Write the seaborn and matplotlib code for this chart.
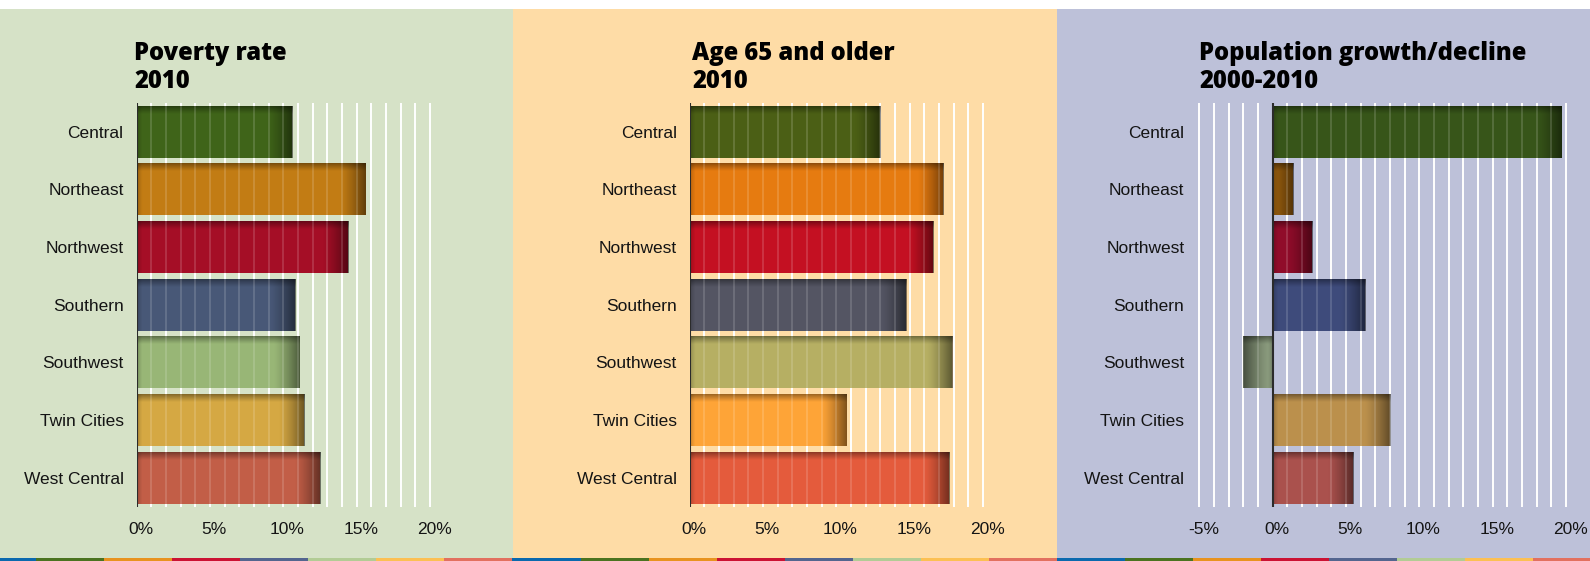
import numpy as np
import pandas as pd
import matplotlib
matplotlib.use("Agg")
import matplotlib.pyplot as plt
import matplotlib.transforms as mtransforms
from matplotlib.patches import Rectangle
import seaborn as sns

# ---------------- data ----------------
regions = ["Central", "Northeast", "Northwest", "Southern", "Southwest",
           "Twin Cities", "West Central"]
poverty_2010 = [10.6, 15.6, 14.4, 10.8, 11.1, 11.4, 12.5]
age65_2010 = [13.0, 17.3, 16.6, 14.75, 17.9, 10.7, 17.7]
growth_2000_2010 = [19.7, 1.4, 2.7, 6.3, -2.0, 8.0, 5.5]

titles = ["Poverty rate\n2010", "Age 65 and older\n2010",
          "Population growth/decline\n2000-2010"]
ticks_p1 = [0, 5, 10, 15, 20]
ticks_p2 = [0, 5, 10, 15, 20]
ticks_p3 = [-5, 0, 5, 10, 15, 20]
ticklabels_p1 = ["0%", "5%", "10%", "15%", "20%"]
ticklabels_p2 = ["0%", "5%", "10%", "15%", "20%"]
ticklabels_p3 = ["-5%", "0%", "5%", "10%", "15%", "20%"]

# ---------------- styles ----------------
pal1 = ["#3f6419", "#c27c14", "#a50e26", "#485877", "#98b676", "#d5a843", "#c25e47"]
pal2 = ["#4b5f15", "#e67b10", "#c41022", "#545563", "#b6af63", "#fea437", "#e45b3c"]
pal3 = ["#375519", "#a4650f", "#900c2a", "#3e4b7b", "#8b9c7e", "#bb904c", "#aa514d"]
bg_colors = ["#d6e2c7", "#fedca6", "#bdc1d9"]
strip_colors = ["#0b69ae", "#4b7320", "#e8931f", "#cb1233", "#53658f",
                "#b2cc95", "#fcc053", "#e2705f"]

W, H = 1590, 561
SC = 14.67  # pixels per percentage point
AX_TOP, AX_BOT = 102.7, 506.7

panels = [
    dict(vals=poverty_2010, pal=pal1, zero=136.7, xlim=(0, 20.3),
         ticks=ticks_p1, labels=ticklabels_p1, title=titles[0],
         bg=(0, 513.3), title_x=134, ypad=9.5),
    dict(vals=age65_2010, pal=pal2, zero=689.7, xlim=(0, 20.3),
         ticks=ticks_p2, labels=ticklabels_p2, title=titles[1],
         bg=(513.3, 1056.7), title_x=692, ypad=9.2),
    dict(vals=growth_2000_2010, pal=pal3, zero=1272.7, xlim=(-5.1, 20.3),
         ticks=ticks_p3, labels=ticklabels_p3, title=titles[2],
         bg=(1056.7, 1590), title_x=1199, ypad=9.8),
]

sns.set_theme(style="white")
plt.rcParams["font.family"] = ["Liberation Sans", "DejaVu Sans"]

fig = plt.figure(figsize=(W / 100, H / 100), dpi=100)
fig.patch.set_facecolor("white")

# panel backgrounds and bottom colour strip
for i, p in enumerate(panels):
    x0, x1 = p["bg"]
    fig.patches.append(Rectangle((x0 / W, 1 - 558.5 / H), (x1 - x0) / W, (558.5 - 9) / H,
                                 transform=fig.transFigure, facecolor=bg_colors[i],
                                 edgecolor="none", zorder=-10))
    start = x0 if i > 0 else -32.0
    k = 0
    s = start
    while s < x1:
        a, b = max(s, x0), min(s + 68, x1)
        if b > a:
            fig.patches.append(Rectangle((a / W, 0), (b - a) / W, 2.6 / H,
                                         transform=fig.transFigure,
                                         facecolor=strip_colors[k % 8],
                                         edgecolor="none", zorder=-10))
        s += 68
        k += 1

for p in panels:
    xmin, xmax = p["xlim"]
    left = p["zero"] + xmin * SC
    width = (xmax - xmin) * SC
    ax = fig.add_axes([left / W, 1 - AX_BOT / H, width / W, (AX_BOT - AX_TOP) / H])
    ax.set_facecolor("none")
    ax.set_zorder(2)

    df = pd.DataFrame({"region": regions, "value": p["vals"]})
    # gridlines under the bars
    for v in range(int(np.ceil(xmin)), 21):
        if v != 0:
            ax.axvline(v, color="white", lw=1.4, zorder=0.5)
    sns.barplot(data=df, x="value", y="region", hue="region", palette=p["pal"],
                legend=False, width=0.9, saturation=1, linewidth=0, orient="h",
                ax=ax, zorder=2)

    # shading gradients on each bar
    for patch in list(ax.patches):
        bx, by = patch.get_x(), patch.get_y()
        bw, bh = patch.get_width(), patch.get_height()
        xa, xb = min(bx, bx + bw), max(bx, bx + bw)
        ya, yb = min(by, by + bh), max(by, by + bh)
        nx, ny = 300, 60
        xs = np.linspace(xa, xb, nx)
        ys = np.linspace(0, 1, ny)  # 0 = visual top
        end = xb if bw >= 0 else xa
        dist_end = np.abs(end - xs) * SC  # pixels from bar end
        dist_start = np.abs(xs) * SC
        a_end = 0.5 * np.clip(1 - dist_end / 26.0, 0, 1) ** 1.3
        a_start = 0.18 * np.clip(1 - dist_start / 5.0, 0, 1)
        bar_px = (yb - ya) * (AX_BOT - AX_TOP) / 7.0
        a_top = 0.38 * np.clip(1 - ys * bar_px / 8.0, 0, 1) ** 1.2
        A = 1 - (1 - a_end[None, :]) * (1 - a_top[:, None]) * (1 - a_start[None, :])
        img = np.zeros((ny, nx, 4))
        img[..., 3] = A
        im = ax.imshow(img, extent=(xa, xb, yb, ya), origin="upper", aspect="auto",
                       interpolation="bilinear", zorder=2.5)
        im.set_clip_path(patch)

    # faint lighter stripes on top of bars
    for v in range(int(np.ceil(xmin)), 21):
        if v != 0:
            ax.axvline(v, color="white", lw=1.3, alpha=0.16, zorder=3)
    ax.axvline(0, color="#2b2b2b", lw=1.5, zorder=5)

    ax.set_xlim(xmin, xmax)
    ax.set_ylim(6.5, -0.5)
    ax.set_xticks(p["ticks"])
    ax.set_xticklabels(p["labels"])
    ax.set_xlabel("")
    ax.set_ylabel("")
    for sp in ax.spines.values():
        sp.set_visible(False)
    ax.tick_params(axis="both", length=0, colors="#141414", labelsize=12.5)
    ax.tick_params(axis="y", pad=p["ypad"])
    ax.tick_params(axis="x", pad=11)
    off = mtransforms.ScaledTranslation(4 / 100, 0, fig.dpi_scale_trans)
    for lab in ax.get_xticklabels():
        lab.set_transform(lab.get_transform() + off)

    fig.text(p["title_x"] / W, 1 - 87.7 / H, p["title"], ha="left", va="baseline",
             fontsize=17.1, fontweight="heavy", color="black",
             family=["Open Sans", "DejaVu Sans"], linespacing=1.12)

fig.savefig("out.png", dpi=100, facecolor=fig.get_facecolor())
